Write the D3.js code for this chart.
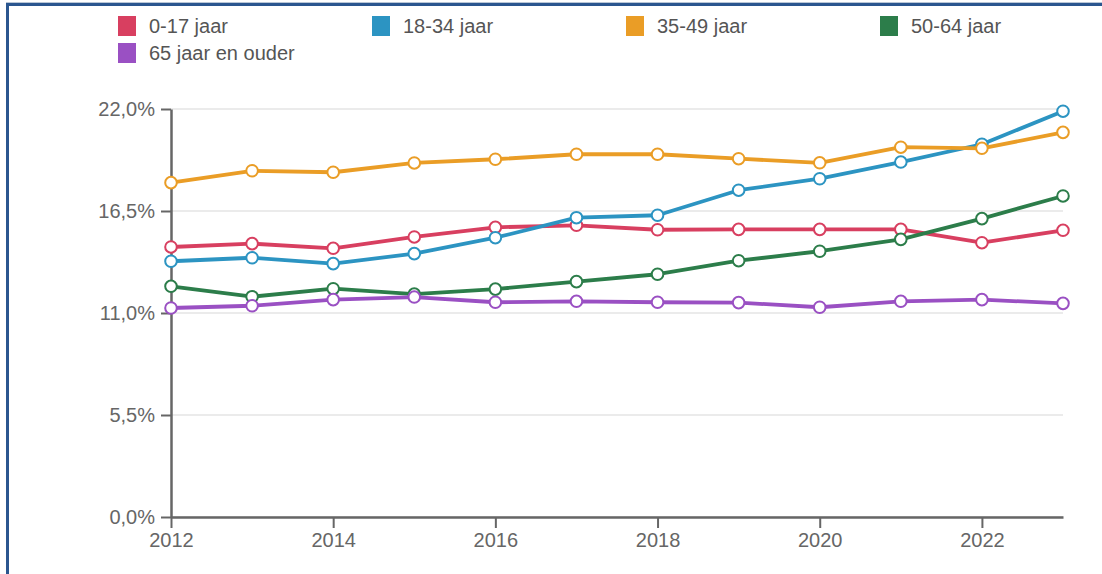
<!DOCTYPE html>
<html>
<head>
<meta charset="utf-8">
<script src="https://cdn.jsdelivr.net/npm/d3@7"></script>
<style>
  body { margin: 0; background: #fff; overflow: hidden; }
  #frame { position: absolute; left: 6px; top: 3px; width: 1110px; height: 600px;
           border-top: 3px solid #2b568f; border-left: 3px solid #2b568f; box-shadow: 0 -1px 0 #b9c6d6; }
  #chart { position: absolute; left: 0; top: 0; }
  text { font-family: "Liberation Sans", Arial, sans-serif; }
</style>
</head>
<body>
<div id="frame"></div>
<div id="chart"></div>
<script>
// jaren en reeksen (percentages)
var years = [2012, 2013, 2014, 2015, 2016, 2017, 2018, 2019, 2020, 2021, 2022, 2023];
var seriesNames = ["0-17 jaar", "18-34 jaar", "35-49 jaar", "50-64 jaar", "65 jaar en ouder"];
var seriesColors = ["#d83f60", "#2c94c2", "#ea9d26", "#2c7d4a", "#9a50c3"];
var v0_17  = [14.56, 14.74, 14.49, 15.10, 15.62, 15.73, 15.49, 15.51, 15.51, 15.51, 14.79, 15.46];
var v18_34 = [13.79, 13.98, 13.66, 14.20, 15.06, 16.14, 16.27, 17.62, 18.24, 19.14, 20.10, 21.88];
var v35_49 = [18.03, 18.67, 18.59, 19.09, 19.29, 19.56, 19.56, 19.32, 19.10, 19.94, 19.88, 20.74];
var v50_64 = [12.44, 11.88, 12.31, 12.02, 12.29, 12.69, 13.09, 13.82, 14.33, 14.97, 16.09, 17.31];
var v65    = [11.27, 11.39, 11.72, 11.86, 11.58, 11.63, 11.58, 11.56, 11.31, 11.63, 11.72, 11.52];
var yTicks = [0, 5.5, 11, 16.5, 22];
var xTicks = [2012, 2014, 2016, 2018, 2020, 2022];

var allValues = [v0_17, v18_34, v35_49, v50_64, v65];

var width = 1102, height = 574;
var margin = {left: 171, right: 39, top: 109, bottom: 57};

var svg = d3.select("#chart").append("svg")
    .attr("width", width)
    .attr("height", height);

var x = d3.scaleLinear().domain([2012, 2023]).range([margin.left, width - margin.right]);
var y = d3.scaleLinear().domain([0, 22]).range([height - margin.bottom, margin.top]);

// gridlines
svg.append("g")
  .selectAll("line")
  .data(yTicks)
  .enter().append("line")
    .attr("x1", x(2012)).attr("x2", x(2023))
    .attr("y1", function(d) { return y(d); })
    .attr("y2", function(d) { return y(d); })
    .attr("stroke", "#ebebeb")
    .attr("stroke-width", 2);

var fmt = function(d) { return d.toFixed(1).replace(".", ",") + "%"; };

var yAxis = svg.append("g")
    .attr("transform", "translate(" + margin.left + ",0)")
    .call(d3.axisLeft(y).tickValues(yTicks).tickFormat(fmt).tickSize(10).tickPadding(6).tickSizeOuter(0));

var xAxis = svg.append("g")
    .attr("transform", "translate(0," + y(0) + ")")
    .call(d3.axisBottom(x).tickValues(xTicks).tickFormat(d3.format("d")).tickSize(11).tickPadding(5).tickSizeOuter(0));

[yAxis, xAxis].forEach(function(ax) {
  ax.select(".domain").attr("stroke", "#666").attr("stroke-width", 2.5);
  ax.selectAll(".tick line").attr("stroke", "#666").attr("stroke-width", 2);
  ax.selectAll(".tick text").attr("fill", "#666").style("font-size", "20px")
    .style("font-family", "'Liberation Sans', Arial, sans-serif");
});

var line = d3.line()
    .x(function(d, i) { return x(years[i]); })
    .y(function(d) { return y(d); });

var groups = svg.selectAll("g.series")
    .data(allValues)
    .enter().append("g")
    .attr("class", "series");

groups.append("path")
    .attr("d", line)
    .attr("fill", "none")
    .attr("stroke", function(d, i) { return seriesColors[i]; })
    .attr("stroke-width", 3.8)
    .attr("stroke-linejoin", "round");

groups.each(function(vals, si) {
  d3.select(this).selectAll("circle")
    .data(vals)
    .enter().append("circle")
      .attr("cx", function(d, i) { return x(years[i]); })
      .attr("cy", function(d) { return y(d); })
      .attr("r", 5.8)
      .attr("fill", "#fff")
      .attr("stroke", seriesColors[si])
      .attr("stroke-width", 2);
});

// legenda
var legend = svg.append("g");
var items = legend.selectAll("g")
    .data(seriesNames)
    .enter().append("g")
    .attr("transform", function(d, i) {
      return "translate(" + (118 + (i % 4) * 254) + "," + (16 + Math.floor(i / 4) * 27) + ")";
    });

items.append("rect")
    .attr("width", 18).attr("height", 20)
    .attr("fill", function(d, i) { return seriesColors[i]; });

items.append("text")
    .attr("x", 31).attr("y", 17)
    .attr("fill", "#555")
    .style("font-size", "20px")
    .text(function(d) { return d; });
</script>
</body>
</html>
